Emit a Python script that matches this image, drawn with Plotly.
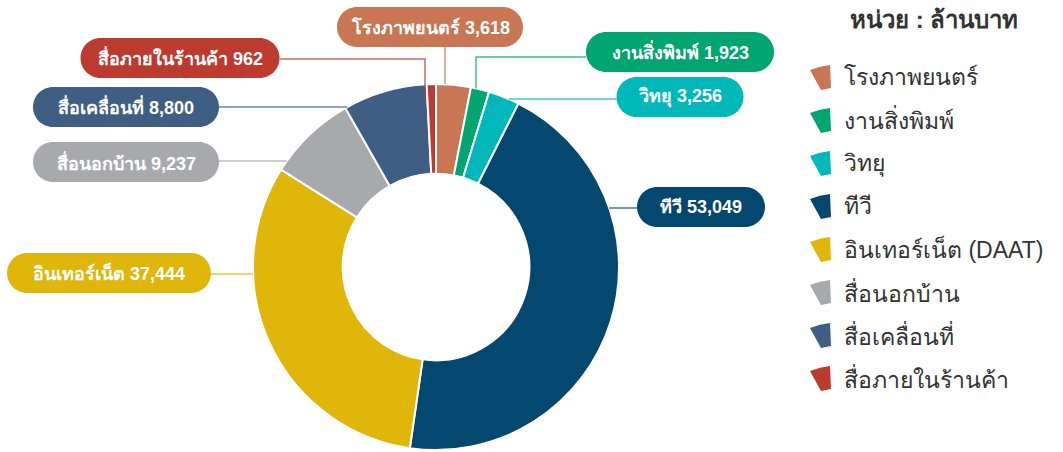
import math
import plotly.graph_objects as go

# ---------------- data ----------------
categories = ["โรงภาพยนตร์", "งานสิ่งพิมพ์", "วิทยุ", "ทีวี", "อินเทอร์เน็ต",
              "สื่อนอกบ้าน", "สื่อเคลื่อนที่", "สื่อภายในร้านค้า"]
legend_labels = ["โรงภาพยนตร์", "งานสิ่งพิมพ์", "วิทยุ", "ทีวี", "อินเทอร์เน็ต (DAAT)",
                 "สื่อนอกบ้าน", "สื่อเคลื่อนที่", "สื่อภายในร้านค้า"]
values = [3618, 1923, 3256, 53049, 37444, 9237, 8800, 962]
colors = ["#C87653", "#00A56F", "#00B8BA", "#04476F", "#E0B60A",
          "#A8A9AD", "#3F5E84", "#BD3A2F"]
legend_title = "หน่วย : ล้านบาท"

# ---------------- layout constants (pixels) ----------------
W, H = 1063, 452
CX, CY, R = 436, 267, 183
HOLE = 0.51
boxes = [
    dict(cx=430, cy=27, w=186, kind="down", lx=445),
    dict(cx=680, cy=52, w=188, kind="left_down", ly=57, lx=476),
    dict(cx=680, cy=97, w=127, kind="left", ly=99),
    dict(cx=701, cy=207, w=128, kind="left", ly=208),
    dict(cx=109, cy=273, w=204, kind="right", ly=274),
    dict(cx=126, cy=162, w=186, kind="right", ly=161),
    dict(cx=126, cy=107, w=186, kind="right", ly=107),
    dict(cx=180, cy=58, w=199, kind="right_down", ly=59, lx=425),
]
BOX_H = 40
FONT = "Liberation Sans, Noto Sans, Arial, sans-serif"


def px(x, y):
    return x / W, 1 - y / H


def path_from_px(cmds):
    out = []
    for c in cmds:
        if isinstance(c, str):
            out.append(c)
        else:
            fx, fy = px(*c)
            out.append(f"{fx:.5f},{fy:.5f}")
    return " ".join(out)


def pill(cx, cy, w, h):
    r = h / 2
    k = 0.5523 * r
    L, Rt, T, B = cx - w / 2, cx + w / 2, cy - r, cy + r
    cmds = ["M", (L + r, T), "L", (Rt - r, T),
            "C", (Rt - r + k, T), (Rt, cy - k), (Rt, cy),
            "C", (Rt, cy + k), (Rt - r + k, B), (Rt - r, B),
            "L", (L + r, B),
            "C", (L + r - k, B), (L, cy + k), (L, cy),
            "C", (L, cy - k), (L + r - k, T), (L + r, T), "Z"]
    return path_from_px(cmds)


fig = go.Figure()
x0, y1 = px(CX - R, CY - R)
x1, y0 = px(CX + R, CY + R)
fig.add_trace(go.Pie(
    labels=categories, values=values, hole=HOLE, sort=False,
    direction="clockwise", rotation=0,
    marker=dict(colors=colors, line=dict(color="white", width=2)),
    textinfo="none", hoverinfo="label+value", showlegend=False,
    domain=dict(x=[x0, x1], y=[y0, y1]),
))

shapes = []
annotations = []

for cat, val, col, b in zip(categories, values, colors, boxes):
    kind = b["kind"]
    if kind == "down":
        x = b["lx"]
        ye = CY - math.sqrt(R ** 2 - (x - CX) ** 2)
        cmds = ["M", (x, b["cy"] + BOX_H / 2), "L", (x, ye)]
    elif kind == "left":
        y = b["ly"]
        xe = CX + math.sqrt(R ** 2 - (y - CY) ** 2)
        cmds = ["M", (b["cx"] - b["w"] / 2, y), "L", (xe, y)]
    elif kind == "right":
        y = b["ly"]
        xe = CX - math.sqrt(R ** 2 - (y - CY) ** 2)
        cmds = ["M", (b["cx"] + b["w"] / 2, y), "L", (xe, y)]
    elif kind == "left_down":
        y, x = b["ly"], b["lx"]
        ye = CY - math.sqrt(R ** 2 - (x - CX) ** 2)
        cmds = ["M", (b["cx"] - b["w"] / 2, y), "L", (x, y), "L", (x, ye)]
    else:  # right_down
        y, x = b["ly"], b["lx"]
        ye = CY - math.sqrt(R ** 2 - (x - CX) ** 2) + 16
        cmds = ["M", (b["cx"] + b["w"] / 2, y), "L", (x, y), "L", (x, ye)]
    shapes.append(dict(type="path", xref="paper", yref="paper",
                       path=path_from_px(cmds),
                       line=dict(color=col, width=1.5), opacity=0.75, layer="above"))
    shapes.append(dict(type="path", xref="paper", yref="paper",
                       path=pill(b["cx"], b["cy"], b["w"], BOX_H),
                       fillcolor=col, line=dict(width=0), layer="above"))
    fx, fy = px(b["cx"], b["cy"])
    annotations.append(dict(
        x=fx, y=fy, xref="paper", yref="paper", showarrow=False,
        text=f"<b>{cat} {val:,}</b>",
        font=dict(family=FONT, size=18, color="white"),
        xanchor="center", yanchor="middle"))

# ---------------- custom legend ----------------
LEG_X, LEG_Y0, LEG_DY = 820, 78, 43
tx, ty = px(934, 19)
annotations.append(dict(x=tx, y=ty, xref="paper", yref="paper", showarrow=False,
                        text=f"<b>{legend_title}</b>",
                        font=dict(family=FONT, size=24, color="#333333"),
                        xanchor="center", yanchor="middle"))
for i, (lab, col) in enumerate(zip(legend_labels, colors)):
    cy = LEG_Y0 + i * LEG_DY
    cx = LEG_X
    cmds = ["M", (cx - 10, cy - 8), "Q", (cx, cy - 12), (cx + 10, cy - 13),
            "L", (cx + 11, cy + 10), "Q", (cx + 6, cy + 11), (cx + 1, cy + 12), "Z"]
    shapes.append(dict(type="path", xref="paper", yref="paper",
                       path=path_from_px(cmds), fillcolor=col,
                       line=dict(width=0), layer="above"))
    lx, ly = px(cx + 22, cy - 1)
    annotations.append(dict(x=lx, y=ly, xref="paper", yref="paper", showarrow=False,
                            text=lab, font=dict(family=FONT, size=23, color="#333333"),
                            xanchor="left", yanchor="middle"))

fig.update_layout(
    width=W, height=H, margin=dict(l=0, r=0, t=0, b=0),
    paper_bgcolor="white", plot_bgcolor="white",
    shapes=shapes, annotations=annotations, showlegend=False,
)
fig.write_html("out.html", config={"displayModeBar": False},
               post_script="document.body.style.margin='0';document.body.style.overflow='hidden';")
